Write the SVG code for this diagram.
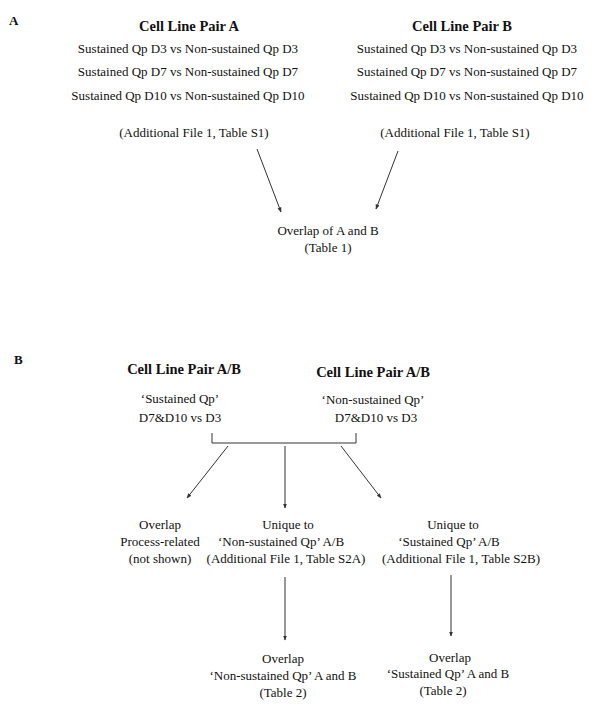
<svg xmlns="http://www.w3.org/2000/svg" width="600" height="720" viewBox="0 0 600 720">
<defs>
<style>
text{font-family:"Liberation Serif","Times New Roman",serif;font-size:13px;fill:#111;text-anchor:middle}
.t{font-weight:bold;font-size:14.5px}
.lbl{font-weight:bold;font-size:13px;text-anchor:start}
.c{stroke:#333;stroke-width:1;fill:none}
.ar{marker-end:url(#ah)}
</style>
<marker id="ah" viewBox="0 0 10 10" refX="9" refY="5" markerWidth="5" markerHeight="5" orient="auto" markerUnits="userSpaceOnUse">
<path d="M0,1 L10,5 L0,9 z" fill="#333"/>
</marker>
</defs>
<rect width="600" height="720" fill="#fff"/>
<text class="lbl" x="9" y="25">A</text>
<text class="lbl" x="14" y="364">B</text>
<g id="pairA">
<text class="t" x="189" y="31">Cell Line Pair A</text>
<text x="188" y="53">Sustained Qp D3 vs Non-sustained Qp D3</text>
<text x="188" y="76">Sustained Qp D7 vs Non-sustained Qp D7</text>
<text x="188" y="100">Sustained Qp D10 vs Non-sustained Qp D10</text>
<text x="194" y="137">(Additional File 1, Table S1)</text>
</g>
<g id="pairB">
<text class="t" x="462" y="31">Cell Line Pair B</text>
<text x="467" y="53">Sustained Qp D3 vs Non-sustained Qp D3</text>
<text x="467" y="76">Sustained Qp D7 vs Non-sustained Qp D7</text>
<text x="467" y="100">Sustained Qp D10 vs Non-sustained Qp D10</text>
<text x="455" y="137">(Additional File 1, Table S1)</text>
</g>
<g id="overlapAB">
<text x="328" y="235">Overlap of A and B</text>
<text x="328" y="252">(Table 1)</text>
</g>
<g id="sustained">
<text class="t" x="184" y="374">Cell Line Pair A/B</text>
<text x="180" y="403">‘Sustained Qp’</text>
<text x="180" y="422">D7&amp;D10 vs D3</text>
</g>
<g id="nonsustained">
<text class="t" x="373" y="377">Cell Line Pair A/B</text>
<text x="373" y="404">‘Non-sustained Qp’</text>
<text x="376" y="422">D7&amp;D10 vs D3</text>
</g>
<g id="overlapProcess">
<text x="160" y="529">Overlap</text>
<text x="160" y="546">Process-related</text>
<text x="160" y="563">(not shown)</text>
</g>
<g id="uniqueNon">
<text x="288" y="529">Unique to</text>
<text x="281" y="546">‘Non-sustained Qp’ A/B</text>
<text x="286" y="563">(Additional File 1, Table S2A)</text>
</g>
<g id="uniqueSus">
<text x="453" y="529">Unique to</text>
<text x="449" y="546">‘Sustained Qp’ A/B</text>
<text x="461" y="563">(Additional File 1, Table S2B)</text>
</g>
<g id="overlapNon">
<text x="283" y="663">Overlap</text>
<text x="283" y="680">‘Non-sustained Qp’ A and B</text>
<text x="283" y="697">(Table 2)</text>
</g>
<g id="overlapSus">
<text x="450" y="662">Overlap</text>
<text x="448" y="678">‘Sustained Qp’ A and B</text>
<text x="443" y="695">(Table 2)</text>
</g>
<g id="connectors">
<line class="c ar" x1="257" y1="149" x2="281" y2="212"/>
<line class="c ar" x1="398" y1="151" x2="376" y2="209"/>
<polyline class="c" points="212,433 212,443 356,443 356,433"/>
<line class="c ar" x1="228" y1="446" x2="187" y2="498"/>
<line class="c ar" x1="285" y1="446" x2="285" y2="508"/>
<line class="c ar" x1="341" y1="446" x2="381" y2="498"/>
<line class="c ar" x1="285" y1="577" x2="285" y2="640"/>
<line class="c ar" x1="451" y1="575" x2="451" y2="636"/>
</g>
</svg>
